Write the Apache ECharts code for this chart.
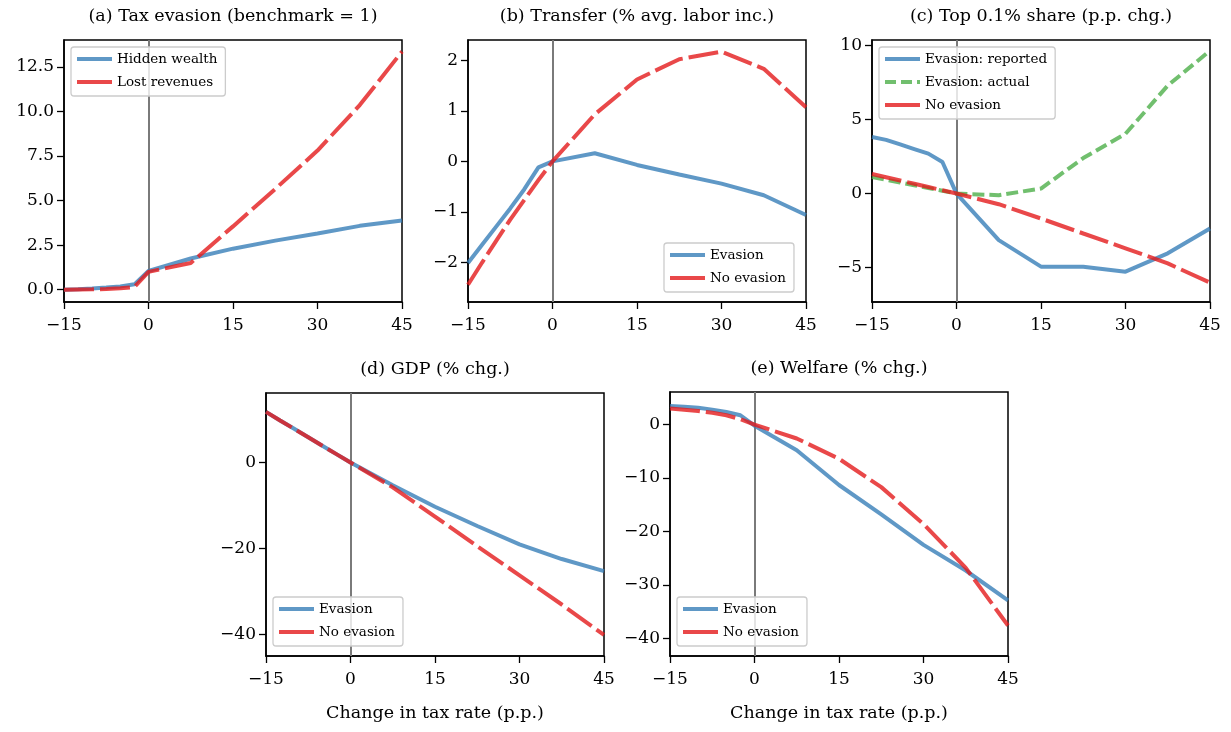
<!DOCTYPE html>
<html><head><meta charset="utf-8">
<script src="https://cdn.jsdelivr.net/npm/echarts@6/dist/echarts.min.js"></script>
<style>html,body{margin:0;padding:0;background:#fff}#c{width:1231px;height:732px}</style>
</head><body><div id="c"></div>
<script>
// ---- data ----
const taxChange = [-15, -12.5, -10, -7.5, -5, -2.5, 0, 7.5, 15, 22.5, 30, 37.5, 45];
const xTicks = [-15, 0, 15, 30, 45];

const titles = [
  '(a) Tax evasion (benchmark = 1)',
  '(b) Transfer (% avg. labor inc.)',
  '(c) Top 0.1% share (p.p. chg.)',
  '(d) GDP (% chg.)',
  '(e) Welfare (% chg.)'
];
const xLabelName = 'Change in tax rate (p.p.)';

// (a)
const hiddenWealth = [0.0, 0.03, 0.07, 0.12, 0.18, 0.3, 1.05, 1.75, 2.3, 2.75, 3.15, 3.58, 3.88];
const lostRevenues = [0.0, 0.01, 0.02, 0.04, 0.08, 0.15, 1.0, 1.5, 3.55, 5.65, 7.8, 10.35, 13.35];
// (b)
const transferEvasion = [-2.01, -1.65, -1.29, -0.93, -0.55, -0.12, 0, 0.16, -0.07, -0.26, -0.44, -0.67, -1.06];
const transferNoEvasion = [-2.44, -2.0, -1.57, -1.15, -0.76, -0.37, 0, 0.93, 1.62, 2.02, 2.17, 1.83, 1.07];
// (c)
const topReported = [3.82, 3.63, 3.32, 3.01, 2.7, 2.13, 0, -3.15, -4.94, -4.94, -5.28, -4.04, -2.36];
const topActual = [1.12, 0.94, 0.75, 0.56, 0.37, 0.19, 0, -0.11, 0.34, 2.4, 4.04, 7.3, 9.66];
const topNoEvasion = [1.32, 1.1, 0.88, 0.66, 0.44, 0.22, 0, -0.72, -1.69, -2.7, -3.7, -4.72, -6.02];
// (d)
const gdpEvasion = [11.8, 9.8, 7.85, 5.9, 3.9, 1.95, 0, -5.3, -10.3, -14.8, -19.1, -22.5, -25.3];
const gdpNoEvasion = [11.8, 9.8, 7.85, 5.9, 3.9, 1.95, 0, -5.8, -12.6, -19.5, -26.3, -33.1, -40.2];
// (e)
const welfareEvasion = [3.5, 3.35, 3.15, 2.8, 2.35, 1.75, -0.2, -4.8, -11.3, -16.8, -22.5, -27.3, -32.9];
const welfareNoEvasion = [3.0, 2.8, 2.55, 2.2, 1.75, 1.0, 0, -2.6, -6.4, -11.7, -18.6, -26.8, -37.6];

// y tick labels per panel
const yTicksA = [0, 2.5, 5, 7.5, 10, 12.5];
const yTicksB = [-2, -1, 0, 1, 2];
const yTicksC = [-5, 0, 5, 10];
const yTicksD = [-40, -20, 0];
const yTicksE = [-40, -30, -20, -10, 0];

// ---- styling / layout ----
const FONT = 'DejaVu Serif';
const BLUE = 'rgba(55,126,184,0.8)';
const RED = 'rgba(228,26,28,0.8)';
const GREEN = 'rgba(77,175,74,0.8)';
const styles = {
  solid: {color: BLUE, type: 'solid', legendType: 'solid'},
  red: {color: RED, type: [30, 6], legendType: 'solid'},
  green: {color: GREEN, type: [12, 5], legendType: [11, 5]}
};

const panels = [
  {grid: {left: 64, top: 40, width: 338, height: 262}, ymin: -0.69, ymax: 14.0, ticks: yTicksA, dec: 1,
   series: [['Hidden wealth', hiddenWealth, 'solid'], ['Lost revenues', lostRevenues, 'red']],
   legend: {left: 71, top: 47}, xname: false},
  {grid: {left: 468, top: 40, width: 338, height: 262}, ymin: -2.78, ymax: 2.40, ticks: yTicksB, dec: 0,
   series: [['Evasion', transferEvasion, 'solid'], ['No evasion', transferNoEvasion, 'red']],
   legend: {left: 664, top: 243}, xname: false},
  {grid: {left: 872, top: 40, width: 338, height: 262}, ymin: -7.33, ymax: 10.38, ticks: yTicksC, dec: 0,
   series: [['Evasion: reported', topReported, 'solid'], ['Evasion: actual', topActual, 'green'], ['No evasion', topNoEvasion, 'red']],
   legend: {left: 879, top: 47}, xname: false},
  {grid: {left: 266, top: 393, width: 338, height: 263}, ymin: -45.1, ymax: 16.2, ticks: yTicksD, dec: 0,
   series: [['Evasion', gdpEvasion, 'solid'], ['No evasion', gdpNoEvasion, 'red']],
   legend: {left: 273, top: 597}, xname: true},
  {grid: {left: 670, top: 392, width: 338, height: 264}, ymin: -43.3, ymax: 6.1, ticks: yTicksE, dec: 0,
   series: [['Evasion', welfareEvasion, 'solid'], ['No evasion', welfareNoEvasion, 'red']],
   legend: {left: 677, top: 597}, xname: true}
];

const fmt = (v, dec) => (dec ? Number(v).toFixed(dec) : String(Math.round(v))).replace('-', '\u2212');

const option = {
  animation: false,
  backgroundColor: '#fff',
  textStyle: {fontFamily: FONT},
  title: [], grid: [], xAxis: [], yAxis: [], legend: [], series: []
};

panels.forEach((p, i) => {
  option.grid.push(Object.assign({show: true, borderColor: '#000', borderWidth: 1.5, backgroundColor: 'transparent', containLabel: false}, p.grid));
  option.title.push({
    text: titles[i], left: p.grid.left + p.grid.width / 2, top: p.grid.top - 33, textAlign: 'center', padding: 0,
    textStyle: {fontFamily: FONT, fontSize: 17.5, fontWeight: 'normal', color: '#000'}
  });
  option.xAxis.push({
    type: 'value', gridIndex: i, min: -15, max: 45, interval: 15,
    name: p.xname ? xLabelName : '', nameLocation: 'middle', nameGap: 48,
    nameTextStyle: {fontFamily: FONT, fontSize: 17.5, color: '#000'},
    axisLine: {show: true, onZero: false, lineStyle: {color: '#000', width: 1.5}},
    axisTick: {show: true, inside: false, length: 7, lineStyle: {color: '#000', width: 1.3}},
    axisLabel: {fontFamily: FONT, fontSize: 17, color: '#000', margin: 15, formatter: v => fmt(v, 0)},
    splitLine: {show: false}
  });
  option.yAxis.push({
    type: 'value', gridIndex: i, min: p.ymin, max: p.ymax,
    axisLine: {show: true, onZero: false, lineStyle: {color: '#000', width: 1.5}},
    axisTick: {show: true, inside: false, length: 7, lineStyle: {color: '#000', width: 1.3}, customValues: p.ticks},
    axisLabel: {fontFamily: FONT, fontSize: 17, color: '#000', margin: 10, customValues: p.ticks, formatter: v => fmt(v, p.dec)},
    splitLine: {show: false}
  });
  option.legend.push({
    left: p.legend.left, top: p.legend.top, orient: 'vertical',
    data: p.series.map(s => ({name: s[0], lineStyle: {width: 4, type: styles[s[2]].legendType, cap: 'butt'}})),
    itemWidth: 35, itemHeight: 14, itemGap: 9, itemTextGap: 13,
    padding: [5, 8, 7, 4],
    backgroundColor: 'rgba(255,255,255,0.8)', borderColor: '#cccccc', borderWidth: 1.3, borderRadius: 3,
    textStyle: {fontFamily: FONT, fontSize: 13.5, color: '#000'},
    itemStyle: {opacity: 0},
    lineStyle: {width: 4},
    selectedMode: false
  });
  p.series.forEach((s, k) => {
    const st = styles[s[2]];
    const ser = {
      type: 'line', name: s[0], xAxisIndex: i, yAxisIndex: i,
      data: taxChange.map((x, j) => [x, s[1][j]]),
      symbol: 'none', showSymbol: false, smooth: false, silent: true,
      lineStyle: {color: st.color, width: 4, type: st.type, cap: 'butt'},
      itemStyle: {color: st.color},
      z: 3 + k
    };
    if (k === 0) {
      ser.markLine = {
        silent: true, symbol: 'none', label: {show: false},
        lineStyle: {color: '#7a7a7a', width: 2, type: 'solid'},
        data: [{xAxis: 0}], z: 1
      };
    }
    option.series.push(ser);
  });
});

const chart = echarts.init(document.getElementById('c'), null, {renderer: 'canvas'});
chart.setOption(option);
</script>
</body></html>
